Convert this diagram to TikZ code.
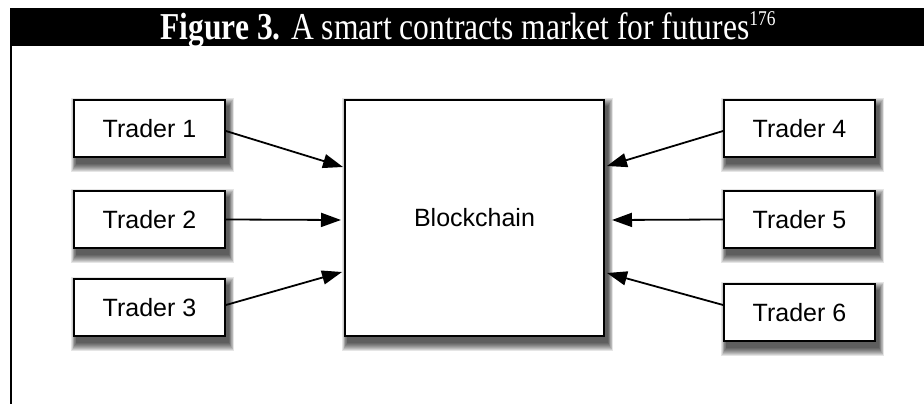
\documentclass[tikz,border=0pt]{standalone}
\usepackage{fontspec}
\setmainfont{Liberation Serif}
\setsansfont{Liberation Sans}
\usetikzlibrary{arrows.meta,backgrounds}
\begin{document}
\begin{tikzpicture}[x=1pt,y=1pt,
  box/.style={draw=black, line width=1.8pt, fill=white, inner sep=0pt,
    font=\sffamily\fontsize{25}{25}\selectfont},
  trader/.style={box, minimum width=151pt, minimum height=57pt},
  shadowlayer/.style={fill=black, opacity=0.1},
  conn/.style={line width=1.8pt, -{Triangle[length=20pt,width=14pt]}}]
\useasboundingbox (0,0) rectangle (924,404);
\fill[black] (10,396) rectangle (924,358);
\draw[line width=2pt] (11,358) -- (11,0);
\node[anchor=base, text=white, inner sep=0pt] (title) at (468,364)
  {\scalebox{0.83}[1]{\fontsize{38}{38}\selectfont\textbf{Figure 3.} A smart contracts market for futures\raisebox{14pt}{\fontsize{21}{21}\selectfont 176}}};

\node[box, minimum width=259pt, minimum height=236pt] (bc) at (474.5,186) {Blockchain};

\node[trader] (t1) at (149.5,275.5) {Trader 1};
\node[trader] (t2) at (149.5,184.5) {Trader 2};
\node[trader] (t3) at (149.5,96.5) {Trader 3};
\node[trader] (t4) at (799.5,275.5) {Trader 4};
\node[trader] (t5) at (799.5,184.5) {Trader 5};
\node[trader] (t6) at (799.5,91.5) {Trader 6};

\coordinate (e1) at (343,237);
\coordinate (e2) at (341,184);
\coordinate (e3) at (342,132);
\coordinate (e4) at (607,238);
\coordinate (e5) at (612,184);
\coordinate (e6) at (607,131);

\draw[conn] ([yshift=-2.5pt]t1.east) -- (e1);
\draw[conn] (t2.east) -- (e2);
\draw[conn] ([yshift=2.5pt]t3.east) -- (e3);
\draw[conn] ([yshift=-2.5pt]t4.west) -- (e4);
\draw[conn] (t5.west) -- (e5);
\draw[conn] ([yshift=7.5pt]t6.west) -- (e6);

\begin{pgfonlayer}{background}
\fill[white] (0,0) rectangle (924,404);
\foreach \n in {bc,t1,t2,t3,t4,t5,t6}{
  \foreach \r in {0,...,8}{
    \fill[shadowlayer] ([xshift={(3-0.6*\r)*1pt}, yshift={(-6-\r)*1pt}]\n.south west)
      rectangle ([xshift={(3+0.6*\r)*1pt}, yshift={(-7+\r)*1pt}]\n.north east);
  }
}
\end{pgfonlayer}
\end{tikzpicture}
\end{document}
